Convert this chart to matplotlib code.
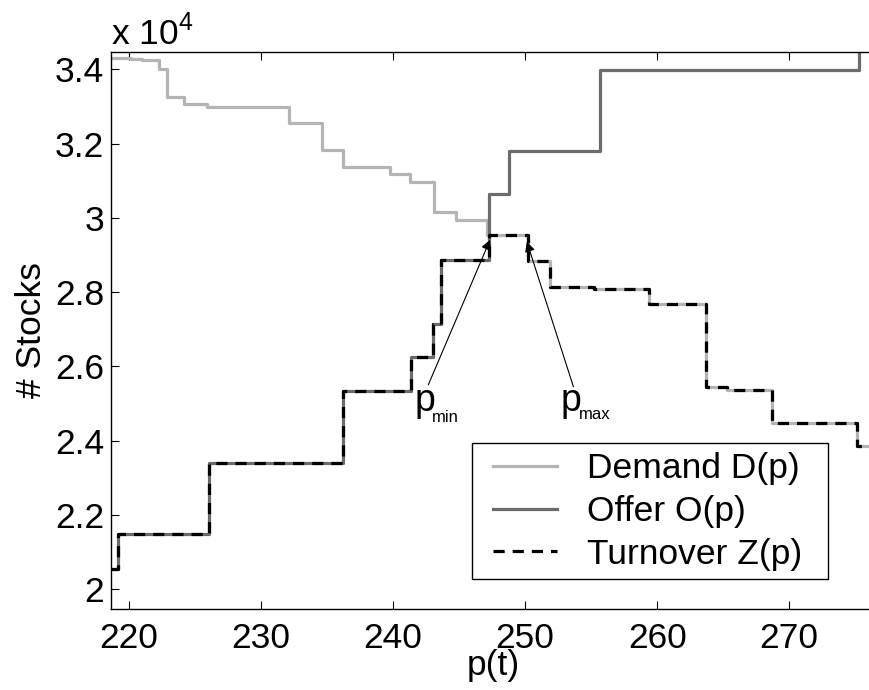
import matplotlib
matplotlib.use('Agg')
import matplotlib.pyplot as plt
from matplotlib.patches import Rectangle
from matplotlib.ticker import FuncFormatter

plt.rcParams['font.family'] = ['Liberation Sans', 'DejaVu Sans']
plt.rcParams['mathtext.fontset'] = 'custom'
plt.rcParams['mathtext.rm'] = 'Liberation Sans'

# step functions, price where each level starts and the number of stocks
demand_p = [218.64, 220.15, 220.96, 222.3, 222.9, 224.2, 225.9, 232.15, 234.6, 236.2,
            239.77, 241.3, 243.13, 244.75, 247.1, 250.25, 251.9, 255.2, 259.4, 263.69,
            265.3, 268.7, 275.13, 277.0]
demand_n = [34300, 34270, 34260, 34010, 33260, 33060, 33000, 32570, 31830, 31370,
            31180, 30980, 30170, 29950, 29540, 28830, 28130, 28090, 27680, 25440,
            25360, 24470, 23850, 23850]

offer_p = [218.64, 219.14, 226.06, 236.24, 241.33, 243.06, 243.6, 247.3, 248.79,
           255.68, 275.3, 277.0]
offer_n = [20540, 21470, 23400, 25330, 26250, 27140, 28870, 30650, 31790,
           33990, 35500, 35500]

turnover_p = [218.64, 219.14, 226.06, 236.24, 241.33, 243.06, 243.6, 247.3, 250.25,
              251.9, 255.2, 259.4, 263.69, 265.3, 268.7, 275.13, 277.0]
turnover_n = [20540, 21470, 23400, 25330, 26250, 27140, 28870, 29540, 28830,
              28130, 28090, 27680, 25440, 25360, 24470, 23850, 23850]

x_ticks = [220, 230, 240, 250, 260, 270]
y_ticks = [20000, 22000, 24000, 26000, 28000, 30000, 32000, 34000]

FS = 25.5

fig = plt.figure(figsize=(8.69, 6.9), dpi=100)
ax = fig.add_axes([111 / 869, 81 / 690, 764 / 869, 557 / 690])

ax.step(demand_p, demand_n, where='post', color='#b4b4b4', lw=2.3, label='Demand D(p)')
ax.step(offer_p, offer_n, where='post', color='#6b6b6b', lw=2.3, label='Offer O(p)')
ax.step(turnover_p, turnover_n, where='post', color='black', lw=2.3,
        linestyle=(0, (3.5, 2.5)), label='Turnover Z(p)')

ax.set_xlim(218.64, 276.5)
ax.set_ylim(19460, 34470)
ax.set_xticks(x_ticks)
ax.set_yticks(y_ticks)
ax.yaxis.set_major_formatter(FuncFormatter(lambda v, pos: f'{v / 1e4:g}'))
ax.tick_params(direction='in', top=True, right=False, length=6, width=0.8,
               labelsize=FS)
ax.tick_params(axis='x', pad=9)
ax.tick_params(axis='y', pad=5)
ax.spines['right'].set_visible(False)
for s in ['left', 'top', 'bottom']:
    ax.spines[s].set_linewidth(1.0)

ax.set_xlabel('p(t)', fontsize=FS)
ax.xaxis.set_label_coords(0.5, -0.071)
ax.set_ylabel('# Stocks', fontsize=FS)
ax.yaxis.set_label_coords(-0.083, 0.5)

ax.text(0.0, 1.0126, r'x 10$^{\mathregular{4}}$', transform=ax.transAxes,
        fontsize=FS, va='baseline', ha='left')

# p_min and p_max arrows
ax.annotate('', xy=(247.35, 29410), xytext=(242.67, 25500),
            arrowprops=dict(arrowstyle='-|>', color='black', lw=0.8,
                            mutation_scale=15, shrinkA=0, shrinkB=0))
ax.annotate('', xy=(250.13, 29360), xytext=(253.66, 25450),
            arrowprops=dict(arrowstyle='-|>', color='black', lw=0.8,
                            mutation_scale=15, shrinkA=0, shrinkB=0))
ax.text(241.6, 24800, 'p', fontsize=27, ha='left', va='baseline')
ax.text(242.95, 24510, 'min', fontsize=12, ha='left', va='baseline')
ax.text(252.69, 24800, 'p', fontsize=27, ha='left', va='baseline')
ax.text(254.09, 24570, 'max', fontsize=12, ha='left', va='baseline')

# legend entries without frame, box drawn separately (matlab style padding)
leg = ax.legend(loc='upper left', bbox_to_anchor=((493 - 111) / 764, (609 - 452) / 557),
                fontsize=FS, frameon=False, handlelength=1.8, handletextpad=0.85,
                labelspacing=0.28, borderpad=0, borderaxespad=0)
ax.add_patch(Rectangle(((472 - 111) / 764, (609 - 579) / 557), 356 / 764, 136 / 557,
                       transform=ax.transAxes, facecolor='white', edgecolor='black',
                       lw=1.0, zorder=4))
leg.set_zorder(5)

plt.savefig('out.png', dpi=100)
